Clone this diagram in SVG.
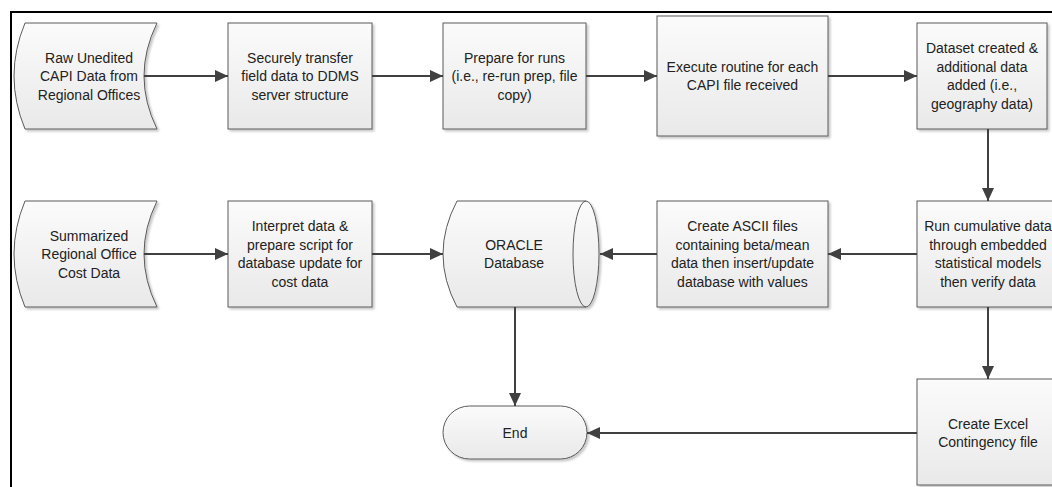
<svg xmlns="http://www.w3.org/2000/svg" width="1052" height="487" viewBox="0 0 1052 487">
<style>
.s{fill:url(#g);stroke:#5a5a5a;stroke-width:1;filter:url(#sh)}
.il{fill:none;stroke:#5a5a5a;stroke-width:1}
.t{font-family:"Liberation Sans",Arial,sans-serif;font-size:14px;fill:#222;text-anchor:middle}
.c{fill:none;stroke:#404040;stroke-width:2;marker-end:url(#ah)}
</style>
<defs>
<linearGradient id="g" x1="0" y1="0" x2="0" y2="1">
<stop offset="0" stop-color="#fbfbfb"/>
<stop offset="1" stop-color="#e9e9e9"/>
</linearGradient>
<filter id="sh" x="-10%" y="-10%" width="125%" height="125%">
<feDropShadow dx="2" dy="2" stdDeviation="1" flood-color="#000" flood-opacity="0.22"/>
</filter>
<marker id="ah" markerUnits="userSpaceOnUse" markerWidth="14" markerHeight="12" refX="13" refY="6" orient="auto">
<path d="M0,0 L13,6 L0,12 Z" fill="#404040"/>
</marker>
</defs>
<rect width="1052" height="487" fill="#fff"/>
<path d="M11,487 L11,12 L1052,12" fill="none" stroke="#000" stroke-width="2"/>

<g id="n1">
<path class="s" d="M25,23 L157,23 Q131,76 157,129 L25,129 Q3,76 25,23 Z"/>
<text class="t" x="89" y="62.5">Raw Unedited</text>
<text class="t" x="89" y="81">CAPI Data from</text>
<text class="t" x="89" y="99.5">Regional Offices</text>
</g>
<g id="n2">
<rect class="s" x="228" y="23" width="144" height="106"/>
<text class="t" x="300" y="62.5">Securely transfer</text>
<text class="t" x="300" y="81">field data to DDMS</text>
<text class="t" x="300" y="99.5">server structure</text>
</g>
<g id="n3">
<rect class="s" x="443" y="23" width="143" height="106"/>
<text class="t" x="514.5" y="62.5">Prepare for runs</text>
<text class="t" x="514.5" y="81">(i.e., re-run prep, file</text>
<text class="t" x="514.5" y="99.5">copy)</text>
</g>
<g id="n4">
<rect class="s" x="657" y="16" width="171" height="120"/>
<text class="t" x="742.5" y="71.75">Execute routine for each</text>
<text class="t" x="742.5" y="90.25">CAPI file received</text>
</g>
<g id="n5">
<rect class="s" x="917" y="23" width="130" height="106"/>
<text class="t" x="982" y="53.25">Dataset created &amp;</text>
<text class="t" x="982" y="71.75">additional data</text>
<text class="t" x="982" y="90.25">added (i.e.,</text>
<text class="t" x="982" y="108.75">geography data)</text>
</g>
<g id="n6">
<rect class="s" x="917" y="201" width="142" height="106"/>
<text class="t" x="988" y="231.25">Run cumulative data</text>
<text class="t" x="988" y="249.75">through embedded</text>
<text class="t" x="988" y="268.25">statistical models</text>
<text class="t" x="988" y="286.75">then verify data</text>
</g>
<g id="n7">
<rect class="s" x="657" y="201" width="171" height="106"/>
<text class="t" x="742.5" y="231.25">Create ASCII files</text>
<text class="t" x="742.5" y="249.75">containing beta/mean</text>
<text class="t" x="742.5" y="268.25">data then insert/update</text>
<text class="t" x="742.5" y="286.75">database with values</text>
</g>
<g id="n8">
<path class="s" d="M457,201 L586,201 A13,53 0 0,1 586,307 L457,307 Q429,254 457,201 Z"/>
<path class="il" d="M586,201 A13,53 0 0,0 586,307"/>
<text class="t" x="514" y="249.75">ORACLE</text>
<text class="t" x="514" y="268.25">Database</text>
</g>
<g id="n9">
<rect class="s" x="228" y="201" width="144" height="106"/>
<text class="t" x="300" y="231.25">Interpret data &amp;</text>
<text class="t" x="300" y="249.75">prepare script for</text>
<text class="t" x="300" y="268.25">database update for</text>
<text class="t" x="300" y="286.75">cost data</text>
</g>
<g id="n10">
<path class="s" d="M25,201 L157,201 Q131,254 157,307 L25,307 Q3,254 25,201 Z"/>
<text class="t" x="89" y="240.5">Summarized</text>
<text class="t" x="89" y="259">Regional Office</text>
<text class="t" x="89" y="277.5">Cost Data</text>
</g>
<g id="n11">
<rect class="s" x="443" y="406" width="144" height="53" rx="26.5" ry="26.5"/>
<text class="t" x="515" y="437.5">End</text>
</g>
<g id="n12">
<rect class="s" x="917" y="379" width="142" height="106"/>
<text class="t" x="988" y="428.75">Create Excel</text>
<text class="t" x="988" y="447.25">Contingency file</text>
</g>

<g id="connectors">
<path class="c" d="M144,76 L228,76"/>
<path class="c" d="M372,76 L443,76"/>
<path class="c" d="M586,76 L657,76"/>
<path class="c" d="M828,76 L917,76"/>
<path class="c" d="M988,129 L988,201"/>
<path class="c" d="M917,254 L828,254"/>
<path class="c" d="M657,254 L600,254"/>
<path class="c" d="M144,254 L228,254"/>
<path class="c" d="M372,254 L443,254"/>
<path class="c" d="M515,307 L515,406"/>
<path class="c" d="M988,307 L988,379"/>
<path class="c" d="M917,433 L587,433"/>
</g>
</svg>
